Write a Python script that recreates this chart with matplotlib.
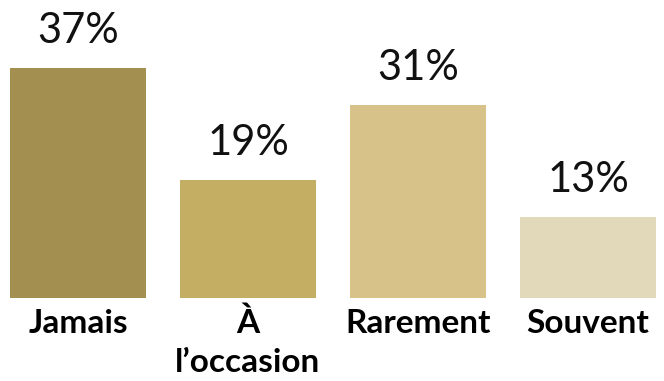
import matplotlib
matplotlib.use("Agg")
import matplotlib.pyplot as plt

categories = ["Jamais", "À\nl’occasion", "Rarement", "Souvent"]
values = [37, 19, 31, 13]
value_labels = ["37%", "19%", "31%", "13%"]
colors = ["#A39050", "#C4AE63", "#D7C38A", "#E2D8BA"]

W, H, DPI = 664, 381, 100
fig = plt.figure(figsize=(W / DPI, H / DPI), dpi=DPI)
base_px = 297.5
ax = fig.add_axes([0, (H - base_px) / H, 1, base_px / H])

x = list(range(len(values)))
ax.bar(x, values, width=0.8, color=colors)
ax.set_xlim(-78 / 170, 3 + 76 / 170)
ax.set_ylim(0, base_px / 6.2)
ax.axis("off")

px = 72 / DPI  # points per pixel

for xi, v, lab in zip(x, values, value_labels):
    ax.annotate(lab, xy=(xi, v), xytext=(0, 25 * px), textcoords="offset points",
                ha="center", va="baseline", fontsize=30, family="Lato",
                color="#111111", annotation_clip=False)

for xi, cat in zip(x, categories):
    for k, line in enumerate(cat.split("\n")):
        ax.annotate(line, xy=(xi, 0), xytext=(0, -(35.5 + 39 * k) * px),
                    textcoords="offset points", ha="center", va="baseline",
                    fontsize=24, family="Lato", fontweight="bold",
                    color="#000000", annotation_clip=False)

fig.savefig("out.png", dpi=DPI)
